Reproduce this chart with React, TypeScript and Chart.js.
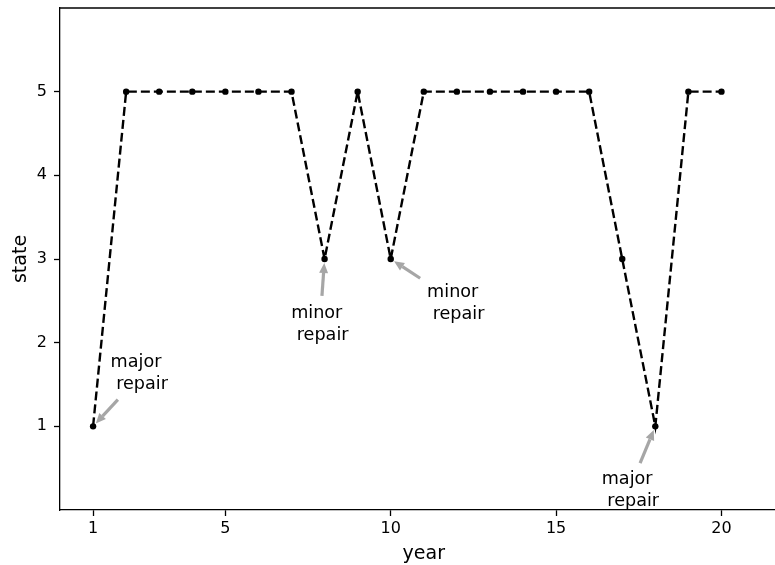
import React, { useEffect, useRef } from "react";
import { Chart, registerables } from "chart.js";

Chart.register(...registerables);

// Condition state of the asset per year
const years = [1, 2, 3, 4, 5, 6, 7, 8, 9, 10, 11, 12, 13, 14, 15, 16, 17, 18, 19, 20];
const states = [1, 5, 5, 5, 5, 5, 5, 3, 5, 3, 5, 5, 5, 5, 5, 5, 3, 1, 5, 5];

const xTicks = [1, 5, 10, 15, 20];
const yTicks = [1, 2, 3, 4, 5];

// Repair annotations: target point, arrow tail and text anchor (data units)
const noteLabels = [
  ["major", " repair"],
  ["minor", " repair"],
  ["minor", " repair"],
  ["major", " repair"],
];
const noteX = [1, 8, 10, 18];
const noteY = [1, 3, 3, 1];
const tailX = [1.75, 7.92, 10.89, 17.54];
const tailY = [1.32, 2.56, 2.77, 0.56];
const textX = [1.53, 6.99, 11.1, 16.38];
const textY = [1.71, 2.3, 2.54, 0.316];

const FONT = "'DejaVu Sans', sans-serif";

const framePlugin = {
  id: "frame",
  afterDraw(chart: any) {
    const { ctx, chartArea } = chart;
    ctx.save();
    ctx.strokeStyle = "#000";
    ctx.lineWidth = 1.3;
    ctx.beginPath();
    ctx.moveTo(chartArea.left, chartArea.top);
    ctx.lineTo(chartArea.right, chartArea.top);
    ctx.stroke();
    ctx.restore();
  },
};

const notesPlugin = {
  id: "notes",
  afterDraw(chart: any) {
    const { ctx } = chart;
    const xs = chart.scales.x;
    const ys = chart.scales.y;
    ctx.save();
    for (let i = 0; i < noteLabels.length; i++) {
      const px = xs.getPixelForValue(noteX[i]);
      const py = ys.getPixelForValue(noteY[i]);
      const tx = xs.getPixelForValue(tailX[i]);
      const ty = ys.getPixelForValue(tailY[i]);
      const dx = px - tx;
      const dy = py - ty;
      const len = Math.hypot(dx, dy);
      const ux = dx / len;
      const uy = dy / len;
      const shrink = 4;
      const tipX = px - ux * shrink;
      const tipY = py - uy * shrink;
      const headLen = 10;
      const headW = 4.5;
      const baseX = tipX - ux * headLen;
      const baseY = tipY - uy * headLen;
      ctx.strokeStyle = "#a6a6a6";
      ctx.fillStyle = "#a6a6a6";
      ctx.lineWidth = 3.2;
      ctx.lineCap = "butt";
      ctx.beginPath();
      ctx.moveTo(tx, ty);
      ctx.lineTo(baseX, baseY);
      ctx.stroke();
      ctx.beginPath();
      ctx.moveTo(tipX, tipY);
      ctx.lineTo(baseX - uy * headW, baseY + ux * headW);
      ctx.lineTo(baseX + uy * headW, baseY - ux * headW);
      ctx.closePath();
      ctx.fill();

      const lx = xs.getPixelForValue(textX[i]);
      const ly = ys.getPixelForValue(textY[i]);
      ctx.fillStyle = "#000";
      ctx.font = `17.6px ${FONT}`;
      ctx.textAlign = "left";
      ctx.textBaseline = "alphabetic";
      noteLabels[i].forEach((line, k) => {
        ctx.fillText(line, lx, ly + k * 22);
      });
    }
    ctx.restore();
  },
};

export default function App() {
  const canvasRef = useRef<HTMLCanvasElement | null>(null);

  useEffect(() => {
    const canvas = canvasRef.current;
    if (!canvas) return;
    const chart = new Chart(canvas, {
      type: "line",
      data: {
        datasets: [
          {
            data: years.map((y, i) => ({ x: y, y: states[i] })),
            borderColor: "#000",
            borderWidth: 2.4,
            borderDash: [9, 4],
            pointRadius: 3.2,
            pointHoverRadius: 3.2,
            pointBackgroundColor: "#000",
            pointBorderWidth: 0,
            tension: 0,
            fill: false,
          },
        ],
      },
      options: {
        responsive: false,
        animation: false,
        devicePixelRatio: 1,
        layout: { padding: { left: 0, top: 8, right: 12.4, bottom: 0 } },
        plugins: {
          legend: { display: false },
          tooltip: { enabled: false },
        },
        events: [],
        scales: {
          x: {
            type: "linear",
            min: 0,
            max: 22,
            afterBuildTicks: (scale: any) => {
              scale.ticks = xTicks.map((v) => ({ value: v }));
            },
            afterFit: (scale: any) => {
              scale.height = 55;
              scale.paddingLeft = 0;
              scale.paddingRight = 0;
            },
            ticks: {
              autoSkip: false,
              maxRotation: 0,
              padding: 3,
              color: "#000",
              font: { family: FONT, size: 16 },
              callback: (v: any) => String(v),
            },
            grid: {
              drawOnChartArea: false,
              drawTicks: true,
              tickLength: 6,
              tickWidth: 1.3,
              tickColor: "#000",
            },
            border: { display: true, color: "#000", width: 1.3 },
            title: {
              display: true,
              text: "year",
              color: "#000",
              font: { family: FONT, size: 19 },
              padding: { top: 0, bottom: 0 },
            },
          },
          y: {
            type: "linear",
            min: 0,
            max: 6,
            afterBuildTicks: (scale: any) => {
              scale.ticks = yTicks.map((v) => ({ value: v }));
            },
            afterFit: (scale: any) => {
              scale.width = 60;
              scale.paddingTop = 0;
              scale.paddingBottom = 0;
            },
            ticks: {
              autoSkip: false,
              padding: 7,
              color: "#000",
              font: { family: FONT, size: 16 },
              callback: (v: any) => String(v),
            },
            grid: {
              drawOnChartArea: false,
              drawTicks: true,
              tickLength: 6,
              tickWidth: 1.3,
              tickColor: "#000",
            },
            border: { display: true, color: "#000", width: 1.3 },
            title: {
              display: true,
              text: "state",
              color: "#000",
              font: { family: FONT, size: 19 },
              padding: { top: 9.5, bottom: 0 },
            },
          },
        },
      },
      plugins: [framePlugin, notesPlugin],
    });
    return () => chart.destroy();
  }, []);

  return (
    <div
      style={{
        position: "fixed",
        left: 0,
        top: 0,
        width: 775,
        height: 565,
        overflow: "hidden",
        background: "#fff",
      }}
    >
      <canvas ref={canvasRef} width={800} height={565} style={{ display: "block" }} />
    </div>
  );
}
